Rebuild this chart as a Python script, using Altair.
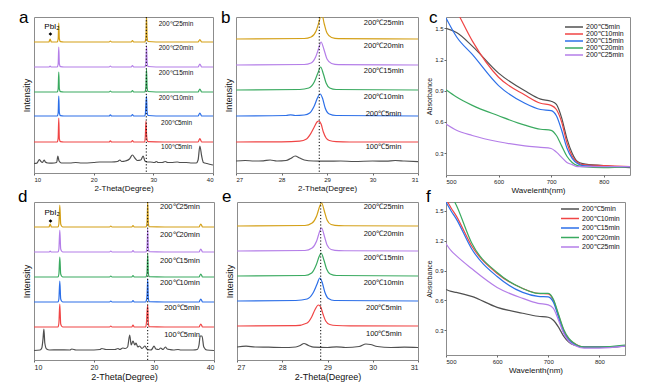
import altair as alt
import pandas as pd

FONT = "Liberation Sans"

XRD_SERIES = ["100℃5min", "200℃5min", "200℃10min", "200℃15min", "200℃20min", "200℃25min"]
XRD_COLORS = ["#505050", "#f04545", "#2c6fe8", "#3aaa60", "#b47ee8", "#d4a017"]
UV_SERIES = ["200℃5min", "200℃10min", "200℃15min", "200℃20min", "200℃25min"]
UV_COLORS = ["#505050", "#f04545", "#2c6fe8", "#3aaa60", "#b47ee8"]

# ---------------- panel a : XRD 10-40 deg ----------------
XA = [10, 12.5, 12.7, 12.9, 13.9, 14.05, 14.15, 14.25, 14.45, 15, 22.6, 22.8, 23.0,
      26.3, 26.5, 26.7, 28.55, 28.66, 28.76, 28.86, 28.96, 29.1, 31.8, 37.5, 37.8, 38.1, 40]
A_200_5 = [0, 0, 0, 0, 0, 4, 24, 3, 0.3, 0, 0, 1.2, 0, 0, 1.5, 0, 0, 6, 21, 8, 2, 0.3, 0, 0, 3.5, 0, 0]
A_200_10 = [0, 0, 0, 0, 0, 3, 20, 3, 0.3, 0, 0, 1.2, 0, 0, 1.5, 0, 0, 2, 12, 20, 4, 0.5, 0, 0, 3, 0, 0]
A_200_15 = [0, 0, 0, 0, 0, 3, 20, 3, 0.3, 0, 0, 1, 0, 0, 1.5, 0, 0, 1, 6, 23, 5, 0.5, 0, 0, 3, 0, 0]
A_200_20 = [0, 0, 0.8, 0, 0, 3, 20, 3, 0.3, 0, 0, 1, 0, 0, 1.5, 0, 0, 1, 5, 21, 5, 0.5, 0, 0, 3, 0, 0]
A_200_25 = [0, 0, 3, 0, 0, 3, 19, 3, 0.3, 0, 0, 1, 0, 0, 1.5, 0, 0, 1, 5, 26, 5, 0.5, 0, 0, 2.5, 0, 0]
A_100_5 = [(10, 0.5), (10.5, 0.8), (10.9, 4.5), (11.1, 3), (11.4, 1.5), (11.7, 4), (11.9, 2), (12.3, 1),
           (13, 0.8), (13.8, 1.5), (14.0, 8), (14.2, 3), (14.6, 1), (16, 1), (17, 1.5), (18, 1), (20, 1.5),
           (21, 2), (22, 2), (23, 2), (24, 2.5), (24.4, 4), (24.7, 2.5), (25.3, 3), (26.0, 5), (26.5, 9),
           (26.9, 6), (27.3, 3.5), (27.9, 4), (28.3, 8), (28.6, 3), (29.0, 2), (29.5, 2), (30.2, 1.5),
           (30.5, 2.5), (30.8, 1.5), (31.5, 1.5), (32.0, 2.5), (32.4, 1.5), (33, 1.5), (34, 2), (34.5, 1.5),
           (35.5, 1.5), (36.5, 1), (37.2, 1), (37.5, 4), (37.8, 18), (38.1, 8), (38.4, 1.5), (39, 0.5), (40, -1)]
A_OFFSETS = [9, 31, 57, 81, 106, 131]
A_LABEL_X = [31.3, 31.3, 30.9, 30.9, 30.9, 30.9]
A_LABEL_Y = [26, 50, 75, 100, 125, 149]

# ---------------- panel b : XRD 27-31 deg ----------------
B_100_5 = [(27, 1), (27.2, 1.5), (27.4, 1), (27.6, 1.2), (27.75, 2), (27.9, 1), (28.1, 1.5), (28.2, 3.5),
           (28.3, 6), (28.4, 4), (28.5, 2), (28.7, 1), (29.0, 0.8), (29.3, 1), (29.6, 0.5), (30.0, 1),
           (30.3, 0.8), (30.5, 1.5), (30.7, 1), (31, 0.3)]
B_200_5 = [(27, 0), (28.0, 0.2), (28.4, 0.8), (28.55, 3), (28.65, 9), (28.72, 15), (28.78, 20), (28.82, 21),
           (28.87, 18), (28.92, 10), (28.98, 4), (29.05, 1.5), (29.2, 0.3), (29.5, 0), (31, 0)]
B_200_10 = [(27, 0), (28.1, 0.5), (28.2, 1.2), (28.3, 0.5), (28.5, 1), (28.62, 3), (28.72, 10), (28.8, 19),
            (28.85, 22), (28.9, 18), (28.96, 8), (29.05, 2), (29.2, 0.5), (31, 0)]
B_200_15 = [(27, 0), (28.4, 0.5), (28.6, 2), (28.72, 8), (28.8, 17), (28.86, 23), (28.92, 16), (28.98, 7),
            (29.06, 2), (29.2, 0.5), (31, 0)]
B_200_20 = [(27, 0), (28.5, 0.5), (28.65, 2), (28.75, 8), (28.82, 17), (28.87, 23), (28.93, 16), (29.0, 6),
            (29.1, 1.5), (29.25, 0.3), (31, 0)]
B_200_25 = [(27, 0), (28.5, 0.5), (28.65, 2), (28.76, 8), (28.83, 18), (28.88, 26), (28.94, 15), (29.0, 6),
            (29.1, 1.5), (29.25, 0.3), (31, 0)]
B_OFFSETS = [11, 31, 57, 83, 108, 134]
B_LABEL_X = [29.85, 29.85, 29.81, 29.81, 29.81, 29.81]
B_LABEL_Y = [26, 59, 76, 102, 127, 150]

# ---------------- panel c : absorbance ----------------
C_X = [500, 520, 550, 600, 650, 680, 700, 710, 720, 730, 740, 750, 760, 800, 850]
C_5 = [1.5, 1.46, 1.33, 1.07, 0.9, 0.82, 0.8, 0.77, 0.64, 0.44, 0.3, 0.22, 0.2, 0.18, 0.16]
C_10 = [1.85, 1.67, 1.38, 1.03, 0.86, 0.78, 0.76, 0.72, 0.6, 0.4, 0.27, 0.21, 0.19, 0.18, 0.17]
C_15 = [1.6, 1.42, 1.25, 0.95, 0.78, 0.72, 0.71, 0.66, 0.52, 0.35, 0.25, 0.2, 0.18, 0.17, 0.17]
C_20 = [0.91, 0.84, 0.76, 0.66, 0.57, 0.53, 0.52, 0.47, 0.37, 0.27, 0.21, 0.18, 0.17, 0.16, 0.17]
C_25 = [0.58, 0.52, 0.47, 0.41, 0.37, 0.355, 0.345, 0.31, 0.26, 0.21, 0.19, 0.17, 0.17, 0.17, 0.17]

# ---------------- panel d : XRD 10-40 deg ----------------
XD = [10, 12.5, 12.7, 12.9, 14.0, 14.15, 14.3, 14.45, 14.7, 15, 22.6, 22.8, 23.0,
      26.3, 26.5, 26.7, 28.6, 28.75, 28.85, 28.95, 29.05, 29.2, 31.8, 37.5, 37.8, 38.1, 40]
D_200_5 = [0, 0, 0, 0, 0, 4, 23, 3, 0.3, 0, 0, 1, 0, 0, 2, 0, 0, 5, 16, 22, 4, 0.3, 0, 0, 3, 0, 0]
D_200_10 = [0, 0, 0, 0, 0, 3, 21, 3, 0.3, 0, 0, 1, 0, 0, 1.5, 0, 0, 2, 8, 23, 4, 0.3, 0, 0, 3, 0, 0]
D_200_15 = [0, 0, 0, 0, 0, 3, 20, 3, 0.3, 0, 0, 1, 0, 0, 1.5, 0, 0, 1, 6, 23, 4, 0.3, 0, 0, 3, 0, 0]
D_200_20 = [0, 0, 0.8, 0, 0, 3, 22, 3, 0.3, 0, 0, 1, 0, 0, 1.5, 0, 0, 1, 6, 23, 4, 0.3, 0, 0, 3, 0, 0]
D_200_25 = [0, 0, 3, 0, 0, 3, 22, 3, 0.3, 0, 0, 1, 0, 0, 1.5, 0, 0, 1, 6, 25, 4, 0.3, 0, 0, 3, 0, 0]
D_100_5 = [(10, 0.5), (11.0, 1), (11.3, 3), (11.5, 12), (11.65, 22), (11.8, 8), (12.1, 2), (12.6, 1),
           (14, 1.2), (16, 1), (16.3, 2), (17, 1), (19, 1), (21, 1.5), (21.3, 2.5), (22, 1.5), (23.5, 1.5),
           (24, 2.5), (24.3, 1.5), (24.8, 3), (25.2, 2.5), (25.6, 4), (25.95, 16), (26.2, 6), (26.5, 10),
           (26.8, 6), (27.0, 8), (27.3, 4), (27.6, 5), (28.0, 2.5), (28.5, 5), (28.8, 2), (29.4, 1),
           (29.7, 2), (30.0, 5), (30.3, 2), (30.8, 1.5), (31.1, 3), (31.5, 1.5), (31.9, 4), (32.2, 2),
           (32.6, 1.5), (33.2, 1), (34, 1.5), (34.5, 1), (35.5, 1), (36.5, 1), (37.2, 1.5), (37.5, 6),
           (37.7, 15), (38.0, 15), (38.3, 4), (38.8, 1), (40, 0.5)]
D_OFFSETS = [9, 33, 58, 83, 108, 133]
D_LABEL_X = [31.7, 31.7, 31, 31, 31, 31]
D_LABEL_Y = [25, 52, 77, 99, 125, 153]

# ---------------- panel e : XRD 27-31 deg ----------------
E_100_5 = [(27, 1), (27.2, 1.8), (27.4, 1), (27.7, 0.8), (28.0, 0.5), (28.3, 1), (28.4, 2.5), (28.48, 4.5),
           (28.58, 2.5), (28.7, 0.8), (29.0, 0.5), (29.2, 1.2), (29.4, 0.5), (29.7, 1.5), (29.85, 4),
           (29.95, 3.5), (30.1, 1.5), (30.4, 0.5), (30.7, 0.8), (31, 0.5)]
E_200_5 = [(27, 0), (28.3, 0.3), (28.55, 3), (28.65, 9), (28.72, 16), (28.8, 21), (28.85, 19), (28.9, 12),
           (28.96, 5), (29.05, 1.5), (29.2, 0.5), (29.5, 0.2), (31, 0)]
E_200_10 = [(27, 0), (28.3, 0.5), (28.55, 2), (28.68, 8), (28.77, 17), (28.83, 23), (28.88, 19), (28.94, 9),
            (29.02, 2.5), (29.15, 0.5), (31, 0)]
E_200_15 = [(27, 0), (28.5, 0.5), (28.65, 3), (28.75, 11), (28.82, 20), (28.86, 23), (28.92, 16), (28.98, 7),
            (29.06, 2), (29.2, 0.5), (31, 0)]
E_200_20 = [(27, 0), (28.5, 0.5), (28.66, 3), (28.76, 10), (28.83, 20), (28.87, 23), (28.93, 15), (28.99, 6),
            (29.08, 1.5), (29.25, 0.3), (31, 0)]
E_200_25 = [(27, 0), (28.5, 0.5), (28.66, 3), (28.76, 10), (28.83, 20), (28.87, 23), (28.93, 15), (28.99, 6),
            (29.08, 1.5), (29.25, 0.3), (31, 0)]
E_OFFSETS = [12, 34, 59, 84, 109, 134]
E_LABEL_X = [29.85, 29.85, 29.8, 29.8, 29.8, 29.8]
E_LABEL_Y = [26, 52, 77, 102, 126, 153]

# ---------------- panel f : absorbance ----------------
F_X = [500, 510, 520, 550, 600, 650, 680, 700, 710, 720, 730, 740, 750, 770, 800, 850]
F_5 = [0.71, 0.69, 0.68, 0.64, 0.53, 0.47, 0.44, 0.43, 0.4, 0.33, 0.24, 0.18, 0.15, 0.13, 0.13, 0.14]
F_10 = [1.62, 1.53, 1.45, 1.15, 0.87, 0.72, 0.67, 0.665, 0.6, 0.45, 0.3, 0.21, 0.17, 0.13, 0.13, 0.14]
F_15 = [1.59, 1.5, 1.42, 1.12, 0.84, 0.68, 0.64, 0.635, 0.58, 0.43, 0.28, 0.2, 0.16, 0.13, 0.13, 0.14]
F_20 = [1.75, 1.66, 1.56, 1.18, 0.88, 0.72, 0.67, 0.67, 0.61, 0.46, 0.31, 0.22, 0.17, 0.13, 0.13, 0.15]
F_25 = [1.17, 1.1, 1.05, 0.92, 0.73, 0.62, 0.57, 0.555, 0.52, 0.4, 0.27, 0.19, 0.15, 0.12, 0.12, 0.14]

PBI_LABEL = "PbI₂"
LEGEND_SYMBOL = "M-3,0H3"   # a short horizontal stroke, three times wider than the symbol box


def pairs(xs, ys):
    return list(zip(xs, ys))


def panel_title(letter, dx, offset):
    return alt.TitleParams(text=letter, anchor="start", frame="group", dx=dx, fontSize=17,
                           fontWeight="normal", font=FONT, offset=offset, color="black")


def xrd_panel(letter, curves, offsets, lab_x, lab_y, dotted, xdom, xticks, w, h,
              text_size, label_size, title_size, dx, toff, pbi=None):
    rows = []
    for s, off in zip(XRD_SERIES, offsets):
        for x, y in curves[s]:
            rows.append({"series": s, "x": x, "y": y + off})
    df = pd.DataFrame(rows)
    xs = alt.Scale(domain=xdom, nice=False, zero=False)
    ys = alt.Scale(domain=[0, h], nice=False, zero=False)
    color = alt.Color("series:N", scale=alt.Scale(domain=XRD_SERIES, range=XRD_COLORS), legend=None)
    lines = alt.Chart(df).mark_line(strokeWidth=1.2, clip=True, interpolate="monotone").encode(
        x=alt.X("x:Q", scale=xs, axis=alt.Axis(title="2-Theta(Degree)", values=xticks, format="d",
                                                labelFontSize=label_size, titleFontSize=title_size,
                                                labelPadding=1, titlePadding=2, tickSize=2)),
        y=alt.Y("y:Q", scale=ys, axis=alt.Axis(title="Intensity", labels=False, ticks=False,
                                                titleFontSize=9, titlePadding=3)),
        color=color,
        detail="series:N",
    )
    rule = alt.Chart(pd.DataFrame({"x": [dotted]})).mark_rule(
        color="black", strokeDash=[1.2, 2], strokeWidth=1).encode(x=alt.X("x:Q", scale=xs))
    ldf = pd.DataFrame({"series": XRD_SERIES, "lx": lab_x, "ly": lab_y})
    texts = alt.Chart(ldf).mark_text(align="left", baseline="middle", fontSize=text_size,
                                     font=FONT, color="#111111").encode(
        x=alt.X("lx:Q", scale=xs), y=alt.Y("ly:Q", scale=ys), text="series:N")
    layers = [lines, rule, texts]
    if pbi is not None:
        pdf = pd.DataFrame({"px": [pbi[0]], "py": [pbi[1]], "tx": [pbi[2]], "ty": [pbi[3]],
                            "t": [PBI_LABEL]})
        layers.append(alt.Chart(pdf).mark_point(shape="diamond", filled=True, size=14,
                                                color="black", opacity=1).encode(
            x=alt.X("px:Q", scale=xs), y=alt.Y("py:Q", scale=ys)))
        layers.append(alt.Chart(pdf).mark_text(fontSize=8, font=FONT, color="black").encode(
            x=alt.X("tx:Q", scale=xs), y=alt.Y("ty:Q", scale=ys), text="t:N"))
    return alt.layer(*layers).properties(width=w, height=h, title=panel_title(letter, dx, toff))


def uv_panel(letter, xs_list, series_vals, ydom, w, h, leg_x, leg_y, row_pad, dx, toff):
    rows = []
    for s, vals in zip(UV_SERIES, series_vals):
        for x, y in zip(xs_list, vals):
            rows.append({"series": s, "x": x, "y": y})
    df = pd.DataFrame(rows)
    chart = alt.Chart(df).mark_line(strokeWidth=1.2, clip=True, interpolate="monotone").encode(
        x=alt.X("x:Q", scale=alt.Scale(domain=[500, 850], nice=False, zero=False),
                axis=alt.Axis(title="Wavelenth(nm)", values=[500, 600, 700, 800], labelFontSize=6,
                              titleFontSize=8, labelPadding=1, titlePadding=2, tickSize=2)),
        y=alt.Y("y:Q", scale=alt.Scale(domain=ydom, nice=False, zero=False),
                axis=alt.Axis(title="Absorbance", values=[0.3, 0.6, 0.9, 1.2, 1.5], format=".1f",
                              labelFontSize=6, titleFontSize=7, labelPadding=1, titlePadding=2,
                              tickSize=2)),
        color=alt.Color("series:N", scale=alt.Scale(domain=UV_SERIES, range=UV_COLORS),
                        legend=alt.Legend(title=None, orient="none", legendX=leg_x, legendY=leg_y,
                                          symbolType=LEGEND_SYMBOL, symbolSize=36, symbolStrokeWidth=1.5,
                                          symbolFillColor="transparent",
                                          labelFontSize=7, labelFont=FONT, rowPadding=row_pad,
                                          labelOffset=8, padding=0)),
    )
    return chart.properties(width=w, height=h, title=panel_title(letter, dx, toff))


a = xrd_panel("a", {
    "100℃5min": A_100_5, "200℃5min": pairs(XA, A_200_5), "200℃10min": pairs(XA, A_200_10),
    "200℃15min": pairs(XA, A_200_15), "200℃20min": pairs(XA, A_200_20), "200℃25min": pairs(XA, A_200_25)},
    A_OFFSETS, A_LABEL_X, A_LABEL_Y, 28.82, [10, 40], [10, 20, 30, 40], 179, 156,
    6.5, 6, 8, -15, -10, pbi=(12.75, 139, 13.0, 146))
b = xrd_panel("b", {
    "100℃5min": B_100_5, "200℃5min": B_200_5, "200℃10min": B_200_10,
    "200℃15min": B_200_15, "200℃20min": B_200_20, "200℃25min": B_200_25},
    B_OFFSETS, B_LABEL_X, B_LABEL_Y, 28.83, [27, 31], [27, 28, 29, 30, 31], 182, 156,
    7.5, 6, 8, -15, -10)
c = uv_panel("c", C_X, [C_5, C_10, C_15, C_20, C_25], [0.09, 1.61], 184, 158, 124, 6, 0, -17, -10)
d = xrd_panel("d", {
    "100℃5min": D_100_5, "200℃5min": pairs(XD, D_200_5), "200℃10min": pairs(XD, D_200_10),
    "200℃15min": pairs(XD, D_200_15), "200℃20min": pairs(XD, D_200_20), "200℃25min": pairs(XD, D_200_25)},
    D_OFFSETS, D_LABEL_X, D_LABEL_Y, 28.95, [10, 40], [10, 20, 30, 40], 180, 158,
    7.5, 7, 9, -16, -4, pbi=(12.75, 139, 13.0, 147))
e = xrd_panel("e", {
    "100℃5min": E_100_5, "200℃5min": E_200_5, "200℃10min": E_200_10,
    "200℃15min": E_200_15, "200℃20min": E_200_20, "200℃25min": E_200_25},
    E_OFFSETS, E_LABEL_X, E_LABEL_Y, 28.85, [27, 31], [27, 28, 29, 30, 31], 181, 158,
    7.5, 7, 9, -15, -4)
f = uv_panel("f", F_X, [F_5, F_10, F_15, F_20, F_25], [0.05, 1.59], 179, 153, 120, 3, 2.5, -20, -4)

row1 = alt.hconcat(a, b, c, spacing=6).resolve_scale(color="independent")
row2 = alt.hconcat(d, e, f, spacing=6).resolve_scale(color="independent")
chart = alt.vconcat(row1, row2, spacing=-8).resolve_scale(color="independent").properties(
    padding={"left": 9, "top": 0, "right": 0, "bottom": 0}
).configure(font=FONT).configure_view(stroke="#8c8c8c", strokeWidth=1).configure_axis(
    grid=False, domain=False, labelColor="#222222", titleColor="#111111", tickColor="#666666",
    titleFontWeight="normal", labelFont=FONT, titleFont=FONT
).configure_legend(labelColor="#111111")

chart.save("out.html", embed_options={"renderer": "svg", "actions": False})
